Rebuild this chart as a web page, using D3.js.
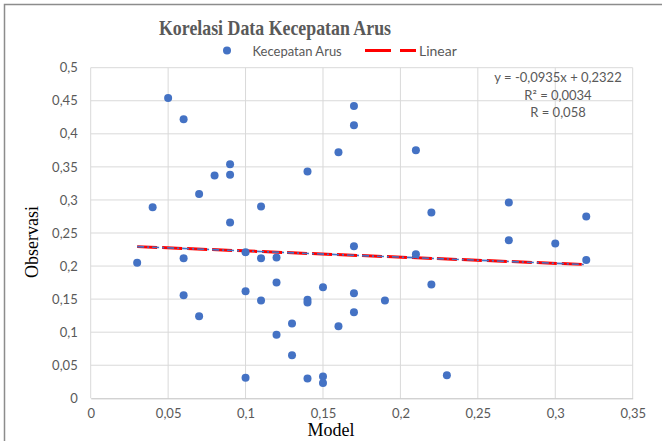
<!DOCTYPE html>
<html>
<head>
<meta charset="utf-8">
<script src="https://cdn.jsdelivr.net/npm/d3@7"></script>
<style>
  body { margin: 0; background: #fff; }
  svg { display: block; }
</style>
</head>
<body>
<svg id="chart" width="662" height="441"></svg>
<script>
// data
var modelX = [0.03, 0.04, 0.05, 0.06, 0.06, 0.06, 0.07, 0.07, 0.08, 0.09, 0.09, 0.09,
              0.10, 0.10, 0.10, 0.11, 0.11, 0.11, 0.12, 0.12, 0.12, 0.13, 0.13,
              0.14, 0.14, 0.14, 0.14, 0.15, 0.15, 0.15, 0.16, 0.16,
              0.17, 0.17, 0.17, 0.17, 0.17, 0.19, 0.21, 0.21, 0.22, 0.22, 0.23,
              0.27, 0.27, 0.30, 0.32, 0.32];
var obsY = [0.205, 0.289, 0.454, 0.422, 0.212, 0.156, 0.309, 0.124, 0.337, 0.354, 0.338, 0.266,
            0.221, 0.162, 0.031, 0.290, 0.212, 0.148, 0.213, 0.175, 0.096, 0.113, 0.065,
            0.343, 0.149, 0.145, 0.030, 0.168, 0.033, 0.023, 0.372, 0.109,
            0.442, 0.413, 0.230, 0.159, 0.130, 0.148, 0.375, 0.218, 0.281, 0.172, 0.035,
            0.296, 0.239, 0.234, 0.275, 0.209];
var slope = -0.0935, intercept = 0.2322;
var trendText = ["y = -0,0935x + 0,2322", "R\u00b2 = 0,0034", "R = 0,058"];
var xTicks = [0, 0.05, 0.1, 0.15, 0.2, 0.25, 0.3, 0.35];
var yTicks = [0, 0.05, 0.1, 0.15, 0.2, 0.25, 0.3, 0.35, 0.4, 0.45, 0.5];

var svg = d3.select("#chart"),
    MARGINS = { top: 67.7, right: 29.3, bottom: 42.7, left: 90.7 },
    WIDTH = 662, HEIGHT = 441,
    GRAY = "#595959",
    SANS = "Lato, 'Open Sans', sans-serif",
    SERIF = "'Liberation Serif', 'DejaVu Serif', serif";

var xScale = d3.scaleLinear().domain([0, 0.35]).range([MARGINS.left, WIDTH - MARGINS.right]);
var yScale = d3.scaleLinear().domain([0, 0.5]).range([HEIGHT - MARGINS.bottom, MARGINS.top]);

var fmt = function(d) { return d === 0 ? "0" : String(+d.toFixed(2)).replace(".", ","); };

// outer chart border
svg.append("rect")
    .attr("x", 4.5).attr("y", 4.5)
    .attr("width", 700).attr("height", 500)
    .attr("fill", "none").attr("stroke", "#8c8c8c").attr("stroke-width", 1.5);

// gridlines
svg.append("g").selectAll("line").data(yTicks.slice(1)).enter().append("line")
    .attr("x1", xScale(0)).attr("x2", xScale(0.35))
    .attr("y1", yScale).attr("y2", yScale)
    .attr("stroke", "#d9d9d9").attr("stroke-width", 1);
svg.append("g").selectAll("line").data(xTicks).enter().append("line")
    .attr("x1", xScale).attr("x2", xScale)
    .attr("y1", yScale(0)).attr("y2", yScale(0.5))
    .attr("stroke", "#d9d9d9").attr("stroke-width", 1);

// x axis
var xAxis = d3.axisBottom(xScale).tickValues(xTicks).tickFormat(fmt).tickSize(0).tickPadding(10);
var gx = svg.append("g")
    .attr("transform", "translate(0," + yScale(0) + ")")
    .call(xAxis);
gx.select(".domain").attr("stroke", "#bfbfbf");
gx.selectAll("text").attr("fill", GRAY).style("font", "13px " + SANS);

// y axis
var yAxis = d3.axisLeft(yScale).tickValues(yTicks).tickFormat(fmt).tickSize(0).tickPadding(13);
var gy = svg.append("g")
    .attr("transform", "translate(" + xScale(0) + ",0)")
    .call(yAxis);
gy.select(".domain").remove();
gy.selectAll("text").attr("fill", GRAY).style("font", "13px " + SANS);

// trendline: red dashes with a blue dash-dot on top
var tx = [d3.min(modelX), d3.max(modelX)];
var trendLine = d3.line()
    .x(function(d) { return xScale(d); })
    .y(function(d) { return yScale(slope * d + intercept); });
svg.append("path")
    .attr("d", trendLine(tx))
    .attr("fill", "none").attr("stroke", "#ff0000")
    .attr("stroke-width", 3).attr("stroke-dasharray", "20,5");
svg.append("path")
    .attr("d", trendLine(tx))
    .attr("fill", "none").attr("stroke", "#4472c4")
    .attr("stroke-width", 1.6).attr("stroke-dasharray", "7,3,2,3");

// points
var pts = modelX.map(function(x, i) { return { x: x, y: obsY[i] }; });
svg.append("g").selectAll("circle").data(pts).enter().append("circle")
    .attr("cx", function(d) { return xScale(d.x); })
    .attr("cy", function(d) { return yScale(d.y); })
    .attr("r", 4)
    .attr("fill", "#4472c4");

// trendline label
svg.append("g").selectAll("text").data(trendText).enter().append("text")
    .attr("x", 558)
    .attr("y", function(d, i) { return 82 + i * 17.5; })
    .attr("text-anchor", "middle")
    .attr("fill", GRAY)
    .style("font", "13px " + SANS)
    .text(function(d) { return d; });

// title (squeezed horizontally like the original)
svg.append("text")
    .attr("x", 275).attr("y", 35)
    .attr("text-anchor", "middle")
    .attr("fill", GRAY)
    .attr("textLength", 232)
    .attr("lengthAdjust", "spacingAndGlyphs")
    .style("font", "bold 22px " + SERIF)
    .text("Korelasi Data Kecepatan Arus");

// legend
svg.append("circle").attr("cx", 227).attr("cy", 50.5).attr("r", 4).attr("fill", "#4472c4");
svg.append("text").attr("x", 252.5).attr("y", 55.5).attr("fill", GRAY)
    .style("font", "13px " + SANS).text("Kecepatan Arus");
svg.append("line").attr("x1", 365).attr("x2", 416).attr("y1", 50.5).attr("y2", 50.5)
    .attr("stroke", "#ff0000").attr("stroke-width", 3).attr("stroke-dasharray", "26,9");
svg.append("text").attr("x", 419).attr("y", 55.5).attr("fill", GRAY)
    .style("font", "14px " + SANS).text("Linear");

// axis titles
svg.append("text")
    .attr("x", 331).attr("y", 436)
    .attr("text-anchor", "middle")
    .attr("fill", "#000")
    .style("font", "18px " + SERIF)
    .text("Model");
svg.append("text")
    .attr("transform", "translate(38,242) rotate(-90)")
    .attr("text-anchor", "middle")
    .attr("fill", "#000")
    .style("font", "18px " + SERIF)
    .text("Observasi");
</script>
</body>
</html>
